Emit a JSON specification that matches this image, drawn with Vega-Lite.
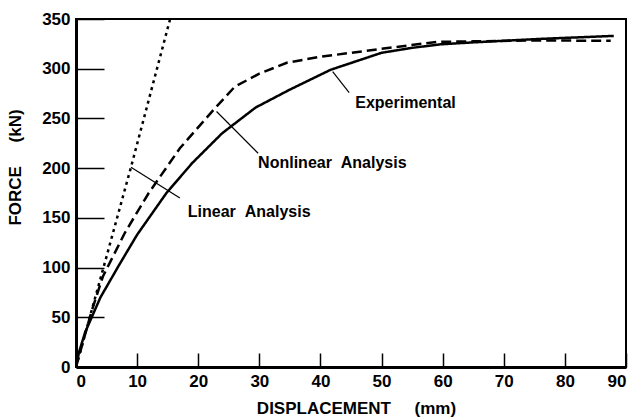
{
  "$schema": "https://vega.github.io/schema/vega-lite/v6.json",
  "width": 550,
  "height": 348,
  "autosize": {"type": "none"},
  "padding": {"left": 76, "top": 19, "right": 7, "bottom": 52},
  "background": "white",
  "config": {
    "view": {"stroke": "black", "strokeWidth": 2},
    "font": "Liberation Sans",
    "axis": {
      "labelFont": "Liberation Sans",
      "labelFontWeight": "bold",
      "labelFontSize": 17,
      "labelColor": "black",
      "titleFont": "Liberation Sans",
      "titleFontWeight": "bold",
      "titleFontSize": 17,
      "titleColor": "black",
      "domainColor": "black",
      "domainWidth": 3,
      "tickColor": "black",
      "tickWidth": 1.5,
      "grid": false
    }
  },
  "datasets": {
    "curves": [
      {"series": "Experimental", "d": 0, "f": 0},
      {"series": "Experimental", "d": 0.5, "f": 15},
      {"series": "Experimental", "d": 1.5, "f": 35},
      {"series": "Experimental", "d": 4, "f": 70},
      {"series": "Experimental", "d": 7, "f": 102},
      {"series": "Experimental", "d": 10, "f": 133},
      {"series": "Experimental", "d": 14.8, "f": 175},
      {"series": "Experimental", "d": 19, "f": 205},
      {"series": "Experimental", "d": 23.9, "f": 235},
      {"series": "Experimental", "d": 29.4, "f": 261},
      {"series": "Experimental", "d": 35, "f": 279},
      {"series": "Experimental", "d": 41.7, "f": 299},
      {"series": "Experimental", "d": 50, "f": 316},
      {"series": "Experimental", "d": 55, "f": 321},
      {"series": "Experimental", "d": 59.6, "f": 324.5},
      {"series": "Experimental", "d": 65, "f": 326.5},
      {"series": "Experimental", "d": 76, "f": 330},
      {"series": "Experimental", "d": 88, "f": 333},
      {"series": "Nonlinear", "d": 0, "f": 0},
      {"series": "Nonlinear", "d": 1, "f": 22},
      {"series": "Nonlinear", "d": 2.5, "f": 55},
      {"series": "Nonlinear", "d": 4.4, "f": 91},
      {"series": "Nonlinear", "d": 8, "f": 135},
      {"series": "Nonlinear", "d": 11.9, "f": 175},
      {"series": "Nonlinear", "d": 17, "f": 220},
      {"series": "Nonlinear", "d": 22.7, "f": 260},
      {"series": "Nonlinear", "d": 26, "f": 282},
      {"series": "Nonlinear", "d": 30, "f": 295},
      {"series": "Nonlinear", "d": 34.5, "f": 306},
      {"series": "Nonlinear", "d": 40, "f": 312},
      {"series": "Nonlinear", "d": 50, "f": 320},
      {"series": "Nonlinear", "d": 59, "f": 327},
      {"series": "Nonlinear", "d": 65, "f": 327.5},
      {"series": "Nonlinear", "d": 76, "f": 328.5},
      {"series": "Nonlinear", "d": 87.5, "f": 328},
      {"series": "Linear", "d": 0, "f": 0},
      {"series": "Linear", "d": 4.5, "f": 100},
      {"series": "Linear", "d": 9, "f": 201},
      {"series": "Linear", "d": 15.4, "f": 350}
    ],
    "pointers": [
      {"d": 9, "f": 201, "d2": 17.0, "f2": 170},
      {"d": 23.0, "f": 257, "d2": 29.8, "f2": 215},
      {"d": 42.0, "f": 297, "d2": 44.7, "f2": 276}
    ],
    "labels": [
      {"d": 18.3, "f": 156, "text": "Linear\u00a0\u00a0Analysis"},
      {"d": 29.8, "f": 205, "text": "Nonlinear\u00a0\u00a0Analysis"},
      {"d": 45.7, "f": 265.5, "text": "Experimental"}
    ]
  },
  "layer": [
    {
      "data": {"name": "curves"},
      "mark": {"type": "line", "color": "black", "strokeWidth": 2.5, "clip": true},
      "encoding": {
        "x": {
          "field": "d", "type": "quantitative",
          "scale": {"domain": [0, 90], "nice": false},
          "axis": {
            "title": "DISPLACEMENT\u00a0\u00a0\u00a0\u00a0\u00a0(mm)",
            "values": [0, 10, 20, 30, 40, 50, 60, 70, 80, 90],
            "tickSize": -14,
            "labelPadding": 20,
            "titleY": 33,
            "titleX": 280
          }
        },
        "y": {
          "field": "f", "type": "quantitative",
          "scale": {"domain": [0, 350], "nice": false},
          "axis": {
            "title": "FORCE\u00a0\u00a0\u00a0\u00a0\u00a0(kN)",
            "values": [0, 50, 100, 150, 200, 250, 300, 350],
            "tickSize": -28,
            "labelPadding": 34,
            "titleX": -52,
            "titleY": 148
          }
        },
        "detail": {"field": "series"},
        "strokeDash": {
          "field": "series", "type": "nominal",
          "scale": {"domain": ["Experimental", "Nonlinear", "Linear"], "range": [[1, 0], [10, 5], [3, 4]]},
          "legend": null
        }
      }
    },
    {
      "data": {"name": "pointers"},
      "mark": {"type": "rule", "color": "black", "strokeWidth": 1.2},
      "encoding": {
        "x": {"field": "d", "type": "quantitative"},
        "y": {"field": "f", "type": "quantitative"},
        "x2": {"field": "d2"},
        "y2": {"field": "f2"}
      }
    },
    {
      "data": {"name": "labels"},
      "mark": {"type": "text", "align": "left", "baseline": "middle", "fontSize": 16, "fontWeight": "bold", "font": "Liberation Sans", "color": "black"},
      "encoding": {
        "x": {"field": "d", "type": "quantitative"},
        "y": {"field": "f", "type": "quantitative"},
        "text": {"field": "text"}
      }
    }
  ]
}
